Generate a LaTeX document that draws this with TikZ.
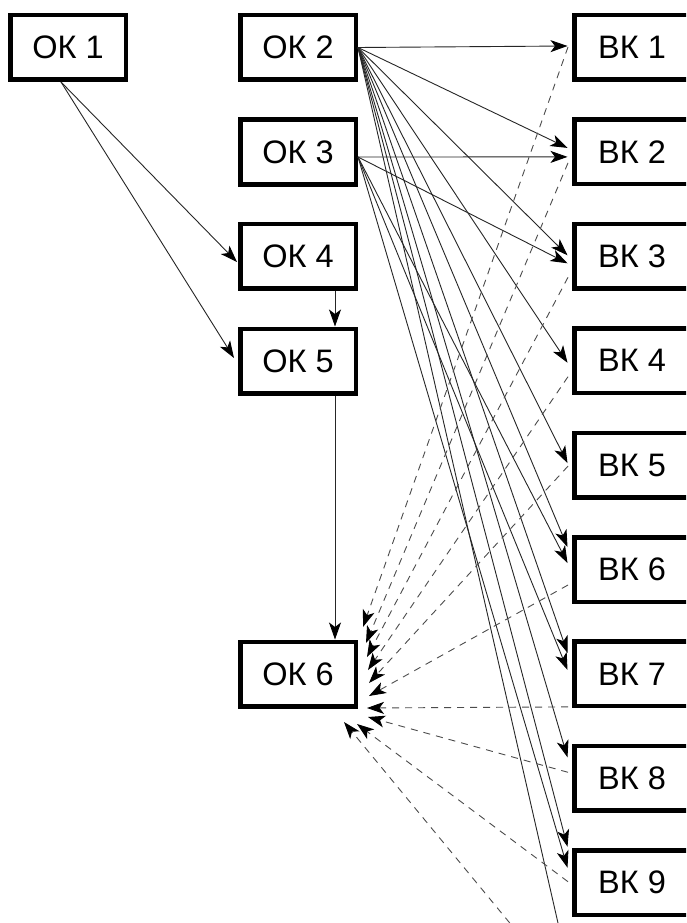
\documentclass[tikz,border=0pt]{standalone}
\usepackage{fontspec}
\setmainfont{Liberation Sans}
\usetikzlibrary{arrows.meta,calc}
\begin{document}
\begin{tikzpicture}[x=1pt,y=-1pt,
  box/.style={draw=black,line width=4.5pt,fill=white,minimum width=115.5pt,minimum height=64.5pt,inner sep=0pt,font=\fontsize{32.5}{32.5}\selectfont},
  arr/.style={draw=black!85,line width=0.9pt,-{Stealth[length=17pt,width=12pt,inset=4.5pt,color=black]}},
  darr/.style={arr,draw=black!70,dash pattern=on 7pt off 6pt}]
\useasboundingbox (0,0) rectangle (686,923);
\clip (0,0) rectangle (686,923);
\fill[white] (0,0) rectangle (686,923);
% nodes
\node[box] (ok1) at (68,47.5) {ОК 1};
\node[box] (ok2) at (298,47.5) {ОК 2};
\node[box] (ok3) at (298,152) {ОК 3};
\node[box] (ok4) at (298,256) {ОК 4};
\node[box] (ok5) at (298,361) {ОК 5};
\node[box] (ok6) at (298,674) {ОК 6};
\foreach \n in {1,...,9}
  \node[box] (vk\n) at (632,{47.5+104.4*(\n-1)}) {ВК \n};
\coordinate (off1) at (573.3,990);
\coordinate (off2) at (559.5,983.3);
% solid connectors
\draw[arr] ($(ok1.south)+(-7,0)$) -- ($(ok4.west)+(-1,6)$);
\draw[arr] ($(ok1.south)+(-7,0)$) -- ($(ok5.west)+(-4,-3)$);
\draw[arr] ($(ok4.south)+(37,0)$) -- ($(ok5.north)+(37,0)$);
\draw[arr] ($(ok5.south)+(37,0)$) -- ($(ok6.north)+(37,0)$);
\foreach \n/\dy in {1/-1.5,2/-4,3/-1,4/2,5/-2,6/-22.5,7/-21,8/-21,9/-36}
  \draw[arr] (ok2.east) -- ($(vk\n.west)+(-4.5,\dy)$);
\draw[arr] (ok2.east) -- (off1);
\foreach \n/\dy in {2/5,3/7,6/-6.5,7/-4,9/-15}
  \draw[arr] ($(ok3.east)+(0,5)$) -- ($(vk\n.west)+(-4.5,\dy)$);
% dashed connectors
\foreach \n/\sy/\tx/\ty in {1/-0.5/5/-47,2/11/8/-31,3/21/9/-17,4/16/10/-4,5/1/11/9,6/15.5/11/22,7/33/9/34,8/-6/10/43,9/-1/-1/50}
  \draw[darr] ($(vk\n.west)+(-4,\sy)$) -- ($(ok6.east)+(\tx,\ty)$);
\draw[darr] (off2) -- ($(ok6.east)+(-14,48)$);
\end{tikzpicture}
\end{document}
